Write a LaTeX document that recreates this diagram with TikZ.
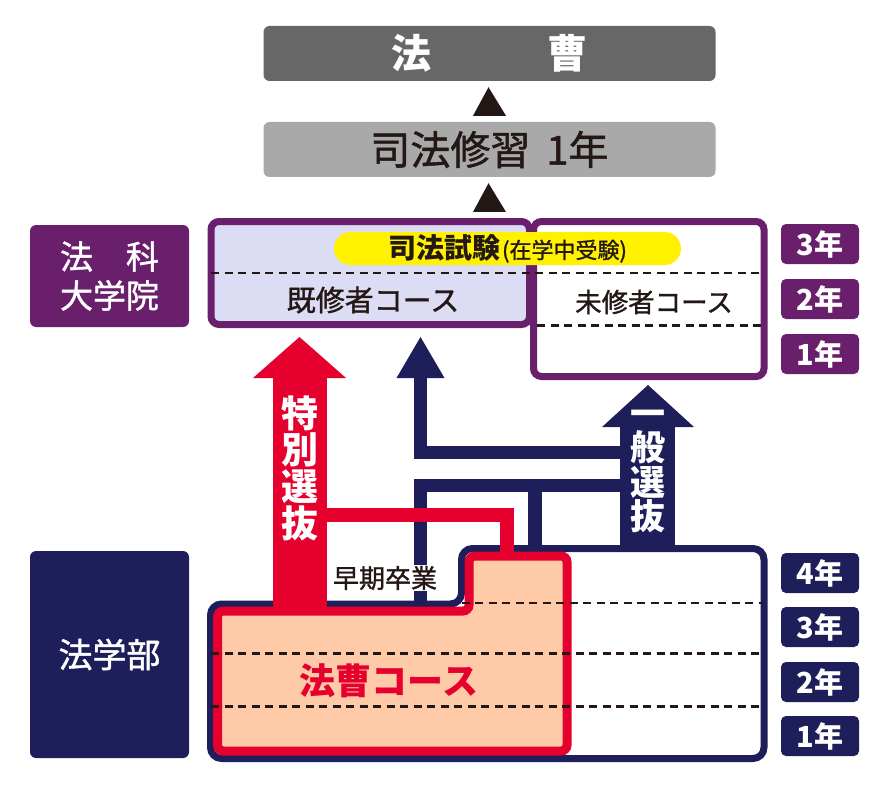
\documentclass[tikz,border=0pt]{standalone}
\usepackage{fontspec}
\usepackage{xcolor}
\usepackage{tikz}
\usetikzlibrary{calc}
\newfontfamily\jp{Noto Sans CJK JP}
\newfontfamily\jpm{Noto Sans CJK JP}[FakeBold=1.2]
\definecolor{ink}{HTML}{231815}
\definecolor{topgray}{HTML}{676767}
\definecolor{midgray}{HTML}{A9A9A9}
\definecolor{plum}{HTML}{6A1F6C}
\definecolor{lav}{HTML}{DCDCF4}
\definecolor{navy}{HTML}{1E1E5A}
\definecolor{crimson}{HTML}{E5002D}
\definecolor{peach}{HTML}{FFCAA8}
\definecolor{lemon}{HTML}{FFF100}
\tikzset{
  gbox/.style={rounded corners=6pt, minimum width=452pt, minimum height=55pt, inner sep=0pt},
  tri/.style={fill=ink},
  side/.style={rounded corners=6pt, minimum width=159pt, text=white, inner sep=0pt, align=center},
  yr/.style={rounded corners=5pt, minimum width=78pt, minimum height=40pt, inner sep=0pt,
    text=white, font=\jp\bfseries\fontsize{29}{29}\selectfont},
  gradbox/.style={draw=plum, line width=7pt, rounded corners=8pt},
  ugbox/.style={draw=navy, fill=white, line width=7pt, rounded corners=11pt},
  hosobox/.style={draw=crimson, fill=peach, line width=9pt, rounded corners=6pt},
  nav/.style={draw=navy, line width=13.5pt},
  redband/.style={draw=crimson, line width=14pt},
  row/.style={draw=ink, line width=2.2pt, dash pattern=on 8pt off 5.5pt},
  lab/.style={text=ink, inner sep=0pt},
  vtext/.style={text=white, align=center, inner sep=0pt},
}

\begin{document}
\begin{tikzpicture}[x=1pt,y=-1pt]
  \useasboundingbox (0,0) rectangle (890,794);

  % top boxes
  \node[gbox,fill=topgray,text=white,font=\jp\bfseries\fontsize{40}{40}\selectfont] (hoso) at (489.5,53.5) {法\hspace{2.9em}曹};
  \node[gbox,fill=midgray,text=ink,font=\jpm\fontsize{40}{40}\selectfont] (shuu) at (489.5,149.5) {司法修習\hspace{0.4em}1年};
  \coordinate (gradtop) at (489.5,218);
  \fill[tri] ($(shuu.north)+(-16.5,-6)$) -- ($(hoso.south)+(-1,6)$) -- ($(shuu.north)+(16.5,-6)$) -- cycle;
  \fill[tri] ($(gradtop)+(-16.5,-6)$) -- ($(shuu.south)+(-1,6)$) -- ($(gradtop)+(16.5,-6)$) -- cycle;

  % law school
  \node[side,fill=plum,minimum height=102pt,font=\jpm\fontsize{33}{39}\selectfont] (lsch) at (109.5,276) {法　科\\大学院};
  \draw[gradbox,fill=lav] (211,221.5) rectangle (529.5,324.5);
  \draw[gradbox,fill=white] (533.5,221.5) rectangle (764,376.5);
  \draw[row] (211,273) -- (764,273);
  \draw[row] (537,325.5) -- (764,325.5);
  \node[fill=lemon,rounded corners=16.5pt,minimum width=347pt,minimum height=33pt,inner sep=0pt,text=ink] (shiken) at (507.5,248.5)
    {{\jp\bfseries\fontsize{28}{28}\selectfont 司法試験}\hspace{2pt}{\jpm\fontsize{22}{22}\selectfont (在学中受験)}};
  \node[lab,font=\jpm\fontsize{29}{29}\selectfont] (kishu) at (373,300) {既修者コース};
  \node[lab,font=\jpm\fontsize{26.5}{26.5}\selectfont] (mishu) at (654,302) {未修者コース};
  \node[yr,fill=plum] (g3) at (820,244) {3年};
  \node[yr,fill=plum] (g2) at (820,299) {2年};
  \node[yr,fill=plum] (g1) at (820,354) {1年};

  % faculty of law
  \node[side,fill=navy,minimum height=207pt,font=\jpm\fontsize{34}{34}\selectfont] (fac) at (109.5,654.5) {法学部};
  \draw[ugbox] (210.5,680) -- (210.5,604) -- (461.5,604) -- (461.5,548.5) -- (764,548.5) -- (764,758.5) -- (210.5,758.5) -- cycle;

  % general selection
  \draw[nav] (647.5,452.5) -- (420.5,452.5) -- (420.5,377);
  \fill[navy] (396.5,378) -- (420.5,337) -- (444.5,378) -- cycle;
  \draw[nav] (420.5,605) -- (420.5,485.5) -- (647.5,485.5);
  \draw[nav] (535,485.5) -- (535,550);
  \draw[navy,line width=55pt] (647.5,551) -- (647.5,426);
  \fill[navy] (602,427) -- (648,385) -- (694,427) -- cycle;

  % hoso course and special selection
  \draw[hosobox] (217.5,680) -- (217.5,611) -- (469,611) -- (469,556) -- (567,556) -- (567,751) -- (217.5,751) -- cycle;
  \draw[redband] (300,515) -- (506.5,515) -- (506.5,557);
  \draw[crimson,line width=54pt] (300,612) -- (300,377);
  \fill[crimson] (253,378) -- (299.5,337) -- (346,378) -- cycle;

  \draw[row] (461.5,603) -- (764,603);
  \draw[row] (211,653.5) -- (764,653.5);
  \draw[row] (211,706.5) -- (764,706.5);

  \node[vtext,font=\jp\bfseries\fontsize{37}{36.7}\selectfont] (toku) at (299.5,468) {特\\別\\選\\抜};
  \node[vtext,font=\jp\bfseries\fontsize{35}{34.3}\selectfont] (ippan) at (648,471.5) {一\\般\\選\\抜};
  \node[lab,fill=white,inner sep=1pt,font=\jpm\fontsize{26}{26}\selectfont] (soki) at (385,578) {早期卒業};
  \node[text=crimson,inner sep=0pt,font=\jp\bfseries\fontsize{36}{36}\selectfont] (hosoc) at (389,681) {法曹コース};

  \node[yr,fill=navy] (u4) at (820,573) {4年};
  \node[yr,fill=navy] (u3) at (820,627) {3年};
  \node[yr,fill=navy] (u2) at (820,682) {2年};
  \node[yr,fill=navy] (u1) at (820,736) {1年};
\end{tikzpicture}
\end{document}
